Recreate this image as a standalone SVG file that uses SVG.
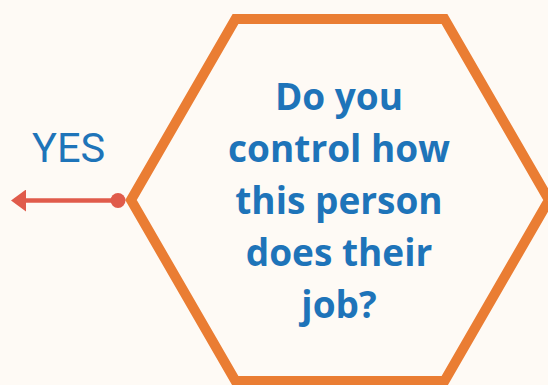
<svg xmlns="http://www.w3.org/2000/svg" width="548" height="385" viewBox="0 0 548 385">
<style>
.q{font-family:"Open Sans","Liberation Sans",sans-serif;font-weight:bold;font-size:37px;fill:#1E74B9;text-anchor:middle}
.y{font-family:Roboto,"Liberation Sans",sans-serif;font-size:41.5px;fill:#1E74B9}
</style>
<defs>
<marker id="ah" viewBox="0 0 15 22" refX="1" refY="11" markerWidth="15" markerHeight="22" markerUnits="userSpaceOnUse" orient="auto-start-reverse">
<path d="M0,0 L15,11 L0,22 Z" fill="#E05B4B"/>
</marker>
</defs>
<rect width="548" height="385" fill="#FEFAF5"/>
<g id="decision">
<polygon points="131,200 235.5,19 444.5,19 549,200 444.5,381 235.5,381" fill="none" stroke="#EA7D33" stroke-width="10" stroke-linejoin="miter"/>
<text class="q" x="339" y="110">Do you</text>
<text class="q" x="339" y="162">control how</text>
<text class="q" x="339" y="214">this person</text>
<text class="q" x="339" y="266">does their</text>
<text class="q" x="339" y="318">job?</text>
</g>
<g id="connectors">
<line x1="118" y1="200.5" x2="25" y2="200.5" stroke="#E05B4B" stroke-width="4.5" marker-end="url(#ah)"/>
<circle cx="118" cy="200.5" r="7.5" fill="#E05B4B"/>
<text class="y" x="32" y="162">YES</text>
</g>
</svg>
